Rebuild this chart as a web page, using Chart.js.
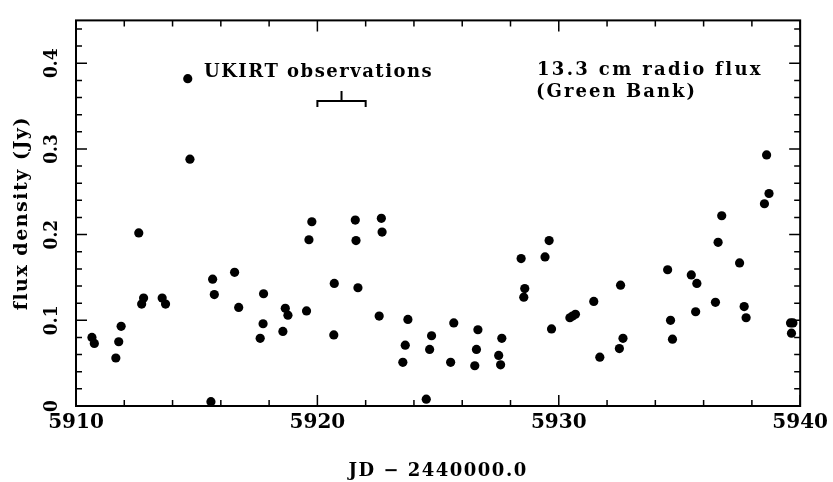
<!DOCTYPE html>
<html>
<head>
<meta charset="utf-8">
<script src="https://cdn.jsdelivr.net/npm/chart.js@4.4.1/dist/chart.umd.min.js"></script>
<style>
  html, body { margin: 0; padding: 0; background: #fff; }
  #wrap { width: 833px; height: 482px; }
</style>
</head>
<body>
<div id="wrap"><canvas id="c"></canvas></div>
<script>
// JD - 2440000.0
const jd = [
  5910.66, 5910.76, 5911.65, 5911.77, 5911.87, 5912.60, 5912.72, 5912.80, 5913.57, 5913.71,
  5914.63, 5914.72, 5915.59, 5915.66, 5915.73, 5916.57, 5916.74, 5917.63, 5917.75, 5917.77,
  5918.57, 5918.67, 5918.78, 5919.55, 5919.65, 5919.77, 5920.68, 5920.70, 5921.57, 5921.60,
  5921.68, 5922.56, 5922.65, 5922.68, 5923.54, 5923.64, 5923.75, 5924.51, 5924.65, 5924.73,
  5925.52, 5925.65, 5926.52, 5926.59, 5926.65, 5927.51, 5927.59, 5927.64, 5928.44, 5928.55,
  5928.59, 5929.43, 5929.60, 5929.70, 5930.46, 5930.57, 5930.69, 5931.45, 5931.70, 5932.51,
  5932.56, 5932.66, 5934.51, 5934.63, 5934.71, 5935.49, 5935.67, 5935.72, 5936.49, 5936.60,
  5936.75, 5937.49, 5937.68, 5937.76, 5938.52, 5938.61, 5938.71, 5939.60, 5939.70, 5939.64
];
// 13.3 cm flux density (Jy)
const flux = [
  0.080, 0.073, 0.056, 0.075, 0.093, 0.202, 0.119, 0.126, 0.126, 0.119,
  0.382, 0.288, 0.005, 0.148, 0.130, 0.156, 0.115, 0.079, 0.096, 0.131,
  0.087, 0.114, 0.106, 0.111, 0.194, 0.215, 0.083, 0.143, 0.217, 0.193,
  0.138, 0.105, 0.219, 0.203, 0.051, 0.071, 0.101, 0.008, 0.066, 0.082,
  0.051, 0.097, 0.047, 0.066, 0.089, 0.059, 0.048, 0.079, 0.172, 0.127,
  0.137, 0.174, 0.193, 0.090, 0.103, 0.105, 0.107, 0.122, 0.057, 0.067,
  0.141, 0.079, 0.159, 0.100, 0.078, 0.153, 0.110, 0.143, 0.121, 0.191,
  0.222, 0.167, 0.116, 0.103, 0.236, 0.293, 0.248, 0.097, 0.097, 0.085
];
const xTicks = [5910, 5920, 5930, 5940];
const yTicks = [0, 0.1, 0.2, 0.3, 0.4];
const yTickLabels = ['0', '0.1', '0.2', '0.3', '0.4'];
const ukirtSpan = [5920, 5922];

const FONT = 'DejaVu Serif';

// frame, inward ticks on all four sides, and the text notes
const framePlugin = {
  id: 'frame',
  beforeDraw(chart) {
    // axis titles are drawn first, with wide spacing like the original
    chart.ctx.letterSpacing = '1.5px';
  },
  afterDatasetsDraw(chart) {
    const { ctx, chartArea: a, scales: { x, y } } = chart;
    ctx.save();
    ctx.strokeStyle = '#000';
    ctx.lineWidth = 2;
    ctx.strokeRect(a.left, a.top, a.right - a.left, a.bottom - a.top);

    ctx.lineWidth = 1.5;
    ctx.beginPath();
    for (let v = x.min; v <= x.max; v += 2) {
      const px = x.getPixelForValue(v);
      const len = v % 10 === 0 ? 11 : 6;
      ctx.moveTo(px, a.bottom); ctx.lineTo(px, a.bottom - len);
      ctx.moveTo(px, a.top); ctx.lineTo(px, a.top + len);
    }
    for (let i = 0; i * 0.02 <= y.max; i++) {
      const py = y.getPixelForValue(i * 0.02);
      const len = i % 5 === 0 ? 11 : 6;
      ctx.moveTo(a.left, py); ctx.lineTo(a.left + len, py);
      ctx.moveTo(a.right, py); ctx.lineTo(a.right - len, py);
    }
    ctx.stroke();

    // bracket over the UKIRT nights
    const bx0 = x.getPixelForValue(ukirtSpan[0]);
    const bx1 = x.getPixelForValue(ukirtSpan[1]);
    const bxm = (bx0 + bx1) / 2;
    const by = y.getPixelForValue(0.356);
    ctx.lineWidth = 2;
    ctx.beginPath();
    ctx.moveTo(bx0, by + 6); ctx.lineTo(bx0, by); ctx.lineTo(bx1, by); ctx.lineTo(bx1, by + 6);
    ctx.moveTo(bxm, by); ctx.lineTo(bxm, by - 10);
    ctx.stroke();

    ctx.fillStyle = '#000';
    ctx.font = 'bold 18px "' + FONT + '"';
    ctx.textAlign = 'left';
    ctx.textBaseline = 'alphabetic';
    ctx.letterSpacing = '1.5px';
    ctx.fillText('UKIRT observations', 204, 77);
    ctx.letterSpacing = '2.35px';
    ctx.fillText('13.3 cm radio flux', 537, 75);
    ctx.letterSpacing = '2.05px';
    ctx.fillText('(Green Bank)', 536, 97);
    ctx.restore();
    // tick labels (z: 1) come after this hook
    ctx.letterSpacing = '0px';
  }
};

new Chart(document.getElementById('c'), {
  type: 'scatter',
  data: {
    datasets: [{
      data: jd.map((v, i) => ({ x: v, y: flux[i] })),
      backgroundColor: '#000',
      borderWidth: 0,
      pointRadius: 4.6,
      pointHoverRadius: 4.6,
      clip: false
    }]
  },
  options: {
    responsive: true,
    maintainAspectRatio: false,
    animation: false,
    layout: { padding: { top: 12, right: 29, left: 0, bottom: 0 } },
    plugins: {
      legend: { display: false },
      tooltip: { enabled: false }
    },
    scales: {
      x: {
        type: 'linear',
        min: 5910,
        max: 5940,
        afterBuildTicks: s => { s.ticks = xTicks.map(v => ({ value: v })); },
        afterFit: s => { s.height = 76; },
        grid: { display: false, drawTicks: false },
        border: { display: false },
        ticks: {
          z: 1,
          color: '#000',
          font: { family: FONT, size: 20, weight: 'bold' },
          padding: 5,
          maxRotation: 0,
          autoSkip: false,
          callback: v => String(v)
        },
        title: {
          display: true,
          text: 'JD \u2212 2440000.0',
          color: '#000',
          font: { family: FONT, size: 18, weight: 'bold' },
          padding: { top: 0, bottom: 0 }
        }
      },
      y: {
        type: 'linear',
        min: 0,
        max: 0.45,
        afterBuildTicks: s => { s.ticks = yTicks.map(v => ({ value: v })); },
        afterFit: s => { s.width = 76; },
        grid: { display: false, drawTicks: false },
        border: { display: false },
        ticks: {
          z: 1,
          color: '#000',
          font: { family: FONT, size: 19, weight: 'bold condensed' },
          padding: 9,
          minRotation: 90,
          maxRotation: 90,
          crossAlign: 'center',
          autoSkip: false,
          callback: (v, i) => yTickLabels[i]
        },
        title: {
          display: true,
          text: 'flux density (Jy)',
          color: '#000',
          font: { family: FONT, size: 19, weight: 'bold' },
          padding: { top: 11, bottom: 0 }
        }
      }
    }
  },
  plugins: [framePlugin]
});
</script>
</body>
</html>
